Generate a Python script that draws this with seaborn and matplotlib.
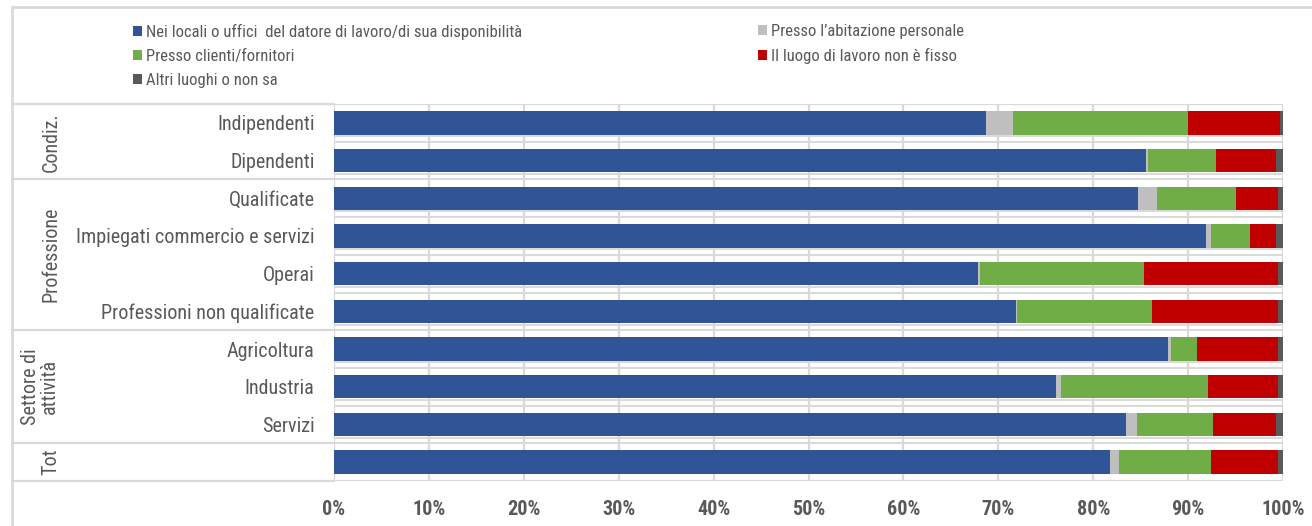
import numpy as np
import pandas as pd
import matplotlib
matplotlib.use("Agg")
import matplotlib.pyplot as plt
from matplotlib import font_manager
from matplotlib.lines import Line2D
from matplotlib.patches import Patch
from matplotlib.ticker import FuncFormatter
import matplotlib.transforms as mtransforms
import seaborn as sns

# ---- data -------------------------------------------------------------
categories = [
    "Indipendenti", "Dipendenti",
    "Qualificate", "Impiegati commercio e servizi", "Operai",
    "Professioni non qualificate",
    "Agricoltura", "Industria", "Servizi",
    "",
]
groups = ["Condiz.", "Professione", "Settore di\nattività", "Tot"]
group_sizes = [2, 4, 3, 1]

series_names = [
    "Nei locali o uffici  del datore di lavoro/di sua disponibilità",
    "Presso l’abitazione personale",
    "Presso clienti/fornitori",
    "Il luogo di lavoro non è fisso",
    "Altri luoghi o non sa",
]
locali    = [68.7, 85.6, 84.7, 91.9, 67.9, 71.9, 87.9, 76.1, 83.5, 81.8]
abitaz    = [2.8, 0.2, 2.0, 0.5, 0.2, 0.1, 0.3, 0.5, 1.1, 0.9]
clienti   = [18.5, 7.1, 8.3, 4.1, 17.3, 14.2, 2.7, 15.5, 8.0, 9.7]
non_fisso = [9.7, 6.4, 4.5, 2.8, 14.1, 13.3, 8.6, 7.4, 6.7, 7.1]
altri     = [0.3, 0.7, 0.5, 0.7, 0.5, 0.5, 0.5, 0.5, 0.7, 0.5]

xticks = [0, 10, 20, 30, 40, 50, 60, 70, 80, 90, 100]

colors = ["#2F5597", "#BFBFBF", "#70AD47", "#C00000", "#595959"]

# ---- style ------------------------------------------------------------
sns.set_theme(style="white")
available = {f.name for f in font_manager.fontManager.ttflist}
family = next((f for f in ["Liberation Sans Narrow", "Roboto Condensed",
                           "Liberation Sans"] if f in available), "DejaVu Sans")
plt.rcParams["font.family"] = [family, "DejaVu Sans"]
TXT = "#595959"
GRID = "#D9D9D9"

W, H = 1312, 526
fig = plt.figure(figsize=(W / 100, H / 100), dpi=100)
ax = fig.add_axes([334 / W, 1 - 481 / H, (1283 - 334) / W, (481 - 104) / H])

# ---- stacked bars: cumulative layers drawn from the widest down --------
values = [locali, abitaz, clienti, non_fisso, altri]
df = pd.DataFrame({n: v for n, v in zip(series_names, values)})
df["cat"] = [c if c else " " for c in categories]
cum = df[series_names].cumsum(axis=1)
for name, col in reversed(list(zip(series_names, colors))):
    sns.barplot(x=cum[name], y=df["cat"], orient="h", color=col,
                saturation=1, width=0.62, linewidth=0, ax=ax, zorder=3)

ax.set_xlim(0, 100)
ax.set_ylim(len(categories) - 0.5, -0.5)
ax.set_xlabel("")
ax.set_ylabel("")
for s in ax.spines.values():
    s.set_visible(False)

ax.set_xticks(xticks)
ax.xaxis.set_major_formatter(FuncFormatter(lambda v, p: f"{v:.0f}%"))
ax.tick_params(axis="x", length=0, pad=14, labelsize=14.5, labelcolor=TXT)
for lab in ax.get_xticklabels():
    lab.set_fontweight("bold")
ax.tick_params(axis="y", length=0, pad=14, labelsize=14.5, labelcolor=TXT)

# vertical gridlines
for t in xticks:
    ax.axvline(t, color=GRID, lw=1.6, zorder=1)

# row separators inside the plot area
n = len(categories)
for k in range(n - 1):
    b = k + 0.5
    ax.axhline(b, color=GRID, lw=1.4, zorder=1)
    ax.axhline(b - 0.15, color=GRID, lw=1.4, zorder=1)
ax.axhline(-0.5, color=GRID, lw=1.6, zorder=1)
ax.axhline(n - 0.5, color=GRID, lw=1.6, zorder=1)

# group separators and labels in the category column
blend = mtransforms.blended_transform_factory(fig.transFigure, ax.transData)
edges = np.concatenate([[0], np.cumsum(group_sizes)]) - 0.5
for e in edges:
    fig.add_artist(Line2D([12 / W, 334 / W], [e, e], transform=blend,
                          color=GRID, lw=1.6))
for g, lo, hi in zip(groups, edges[:-1], edges[1:]):
    fig.text(51 / W if "\n" not in g else 40 / W, (lo + hi) / 2, g,
             transform=blend, rotation=90, ha="center", va="center",
             fontsize=14.5, color=TXT, linespacing=0.95)

# outer frame
fig.add_artist(Line2D([12 / W, 1], [1 - 7 / H, 1 - 7 / H], color=GRID, lw=2))
fig.add_artist(Line2D([12 / W, 12 / W], [0, 1 - 7 / H], color=GRID, lw=2))

# legend in two columns
def handles(idx):
    return [Patch(facecolor=colors[i], edgecolor="none") for i in idx]

leg_kw = dict(frameon=False, fontsize=12, labelcolor=TXT, handlelength=0.55,
              handleheight=0.55, handletextpad=0.25, labelspacing=0.55,
              borderpad=0, borderaxespad=0, loc="upper left")
fig.legend(handles([0, 2, 4]), [series_names[i] for i in (0, 2, 4)],
           bbox_to_anchor=(133 / W, 1 - 24 / H), **leg_kw)
fig.legend(handles([1, 3]), [series_names[i] for i in (1, 3)],
           bbox_to_anchor=(758 / W, 1 - 24 / H), **leg_kw)

fig.savefig("out.png", dpi=100)
